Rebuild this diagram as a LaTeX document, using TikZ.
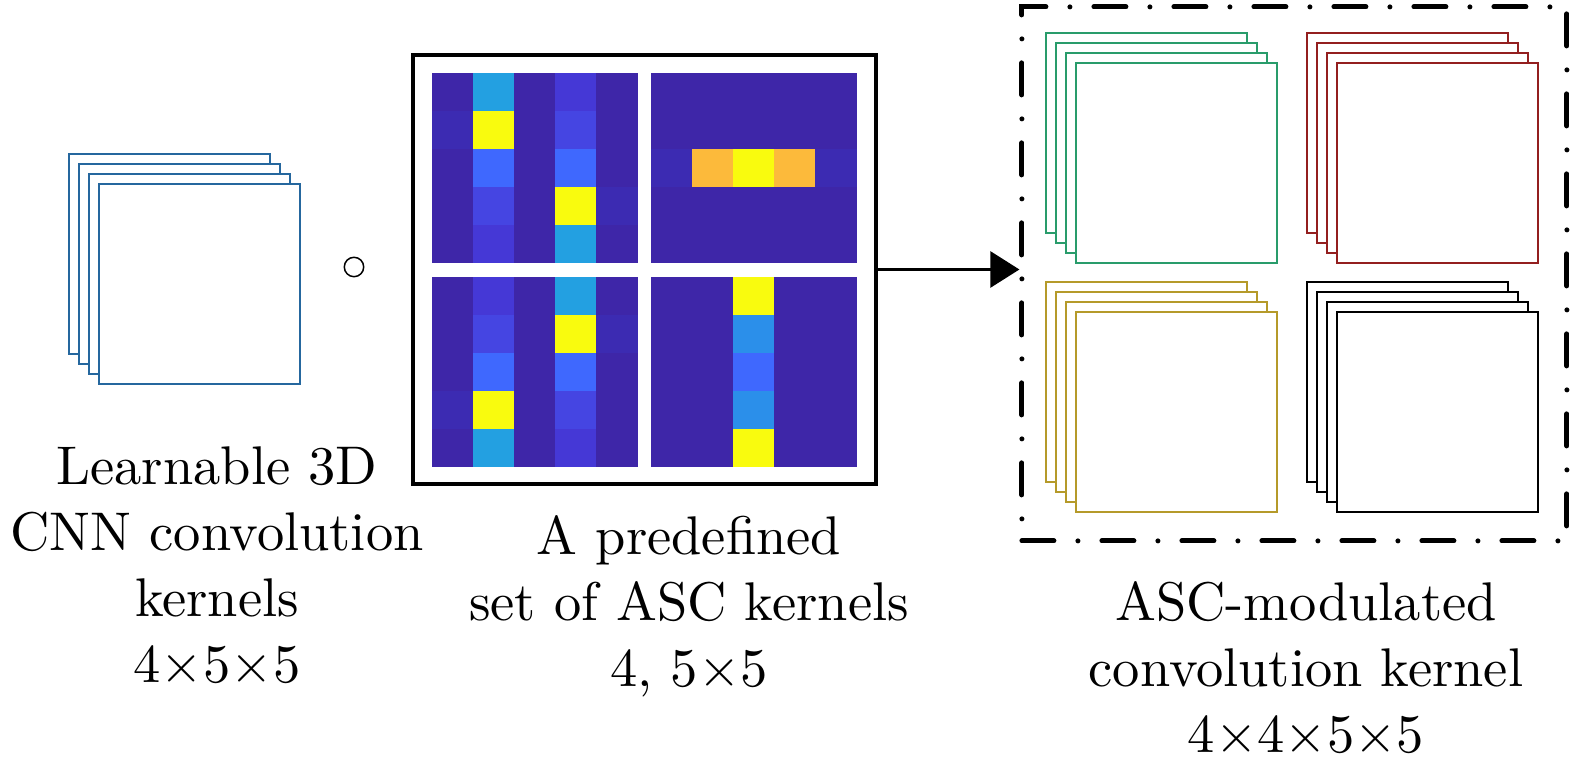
\documentclass[tikz,border=0pt]{standalone}
\usepackage{fontspec}
\setmainfont{lmroman10-regular.otf}
\usepackage{tikz}
\usetikzlibrary{arrows.meta}
\definecolor{kernelBlue}{HTML}{25679E}
\definecolor{kernelGreen}{HTML}{299C6B}
\definecolor{kernelRed}{HTML}{931F1F}
\definecolor{kernelOchre}{HTML}{B59A2A}
\definecolor{parulaA}{HTML}{3E26A8}
\definecolor{parulaAl}{HTML}{3C2BB2}
\definecolor{parulaB}{HTML}{4538D6}
\definecolor{parulaBb}{HTML}{4545E2}
\definecolor{parulaC}{HTML}{3F68FE}
\definecolor{parulaD}{HTML}{23A0E1}
\definecolor{parulaDb}{HTML}{2B8FEA}
\definecolor{parulaE}{HTML}{F9FB0E}
\definecolor{parulaF}{HTML}{FCBA3B}

\tikzset{
  kernelframe/.style={line width=0.15mm, fill=white},
  ascframe/.style={draw, line width=0.4mm, minimum width=46.3mm, minimum height=42.9mm, inner sep=0},
  outframe/.style={draw, line width=0.5mm, line cap=round, dash pattern=on 3.2mm off 2.4mm on 0mm off 2.4mm,
    minimum width=54.5mm, minimum height=53.4mm, inner sep=0},
  caption/.style={align=center, inner sep=0, anchor=base, font=\fontsize{15.5}{18.8}\selectfont},
}

% four frames, shifted down and right
\newcommand{\kernelstack}[3]{%
  \foreach \s in {0,...,3}
    \draw[kernelframe, draw=#3] ({#1+10*\s},{#2+10*\s}) rectangle ++(201,200);
}
% 5x5 map, colours given row by row
\newcommand{\ascmap}[3]{%
  \foreach \cc [count=\k from 0] in {#3} {
    \pgfmathtruncatemacro{\mrow}{div(\k,5)}
    \pgfmathtruncatemacro{\mcol}{mod(\k,5)}
    \fill[\cc] ({#1+41*\mcol},{#2+38*\mrow}) rectangle ++(41.5,38.5);
  }
}

\begin{document}
\begin{tikzpicture}[x=0.1mm, y=-0.1mm]
  \useasboundingbox (0,0) rectangle (1575,774);

  % learnable kernels
  \kernelstack{69}{154}{kernelBlue}
  \node[caption] (learncap) at (217,683) {Learnable 3D\\CNN convolution\\kernels\\4×5×5};

  \node[circle, draw, line width=0.15mm, minimum size=1.94mm, inner sep=0] (prod) at (354,267) {};

  % predefined ASC kernels
  \node[ascframe] (ascbox) at (644.5,269.5) {};
  \ascmap{432}{73}{parulaA,parulaD,parulaA,parulaB,parulaA,
                   parulaAl,parulaE,parulaA,parulaBb,parulaA,
                   parulaA,parulaC,parulaA,parulaC,parulaA,
                   parulaA,parulaBb,parulaA,parulaE,parulaAl,
                   parulaA,parulaB,parulaA,parulaD,parulaA}
  \ascmap{651}{73}{parulaA,parulaA,parulaA,parulaA,parulaA,
                   parulaA,parulaA,parulaA,parulaA,parulaA,
                   parulaAl,parulaF,parulaE,parulaF,parulaAl,
                   parulaA,parulaA,parulaA,parulaA,parulaA,
                   parulaA,parulaA,parulaA,parulaA,parulaA}
  \ascmap{432}{277}{parulaA,parulaB,parulaA,parulaD,parulaA,
                    parulaA,parulaBb,parulaA,parulaE,parulaAl,
                    parulaA,parulaC,parulaA,parulaC,parulaA,
                    parulaAl,parulaE,parulaA,parulaBb,parulaA,
                    parulaA,parulaD,parulaA,parulaB,parulaA}
  \ascmap{651}{277}{parulaA,parulaA,parulaE,parulaA,parulaA,
                    parulaA,parulaA,parulaDb,parulaA,parulaA,
                    parulaA,parulaA,parulaC,parulaA,parulaA,
                    parulaA,parulaA,parulaDb,parulaA,parulaA,
                    parulaA,parulaA,parulaE,parulaA,parulaA}
  \node[caption] (asccap) at (689,687) {A predefined\\set of ASC kernels\\4, 5×5};

  % modulated kernels
  \node[outframe] (outbox) at (1294.4,273.9) {};
  \kernelstack{1046}{33}{kernelGreen}
  \kernelstack{1307}{33}{kernelRed}
  \kernelstack{1046}{282}{kernelOchre}
  \kernelstack{1307}{282}{black}
  \node[caption] (outcap) at (1306,753) {ASC-modulated\\convolution kernel\\4×4×5×5};

  \draw[line width=0.27mm, -{Triangle[length=2.9mm, width=3.6mm]}] (ascbox.east) -- (ascbox.east -| outbox.west);
\end{tikzpicture}
\end{document}
